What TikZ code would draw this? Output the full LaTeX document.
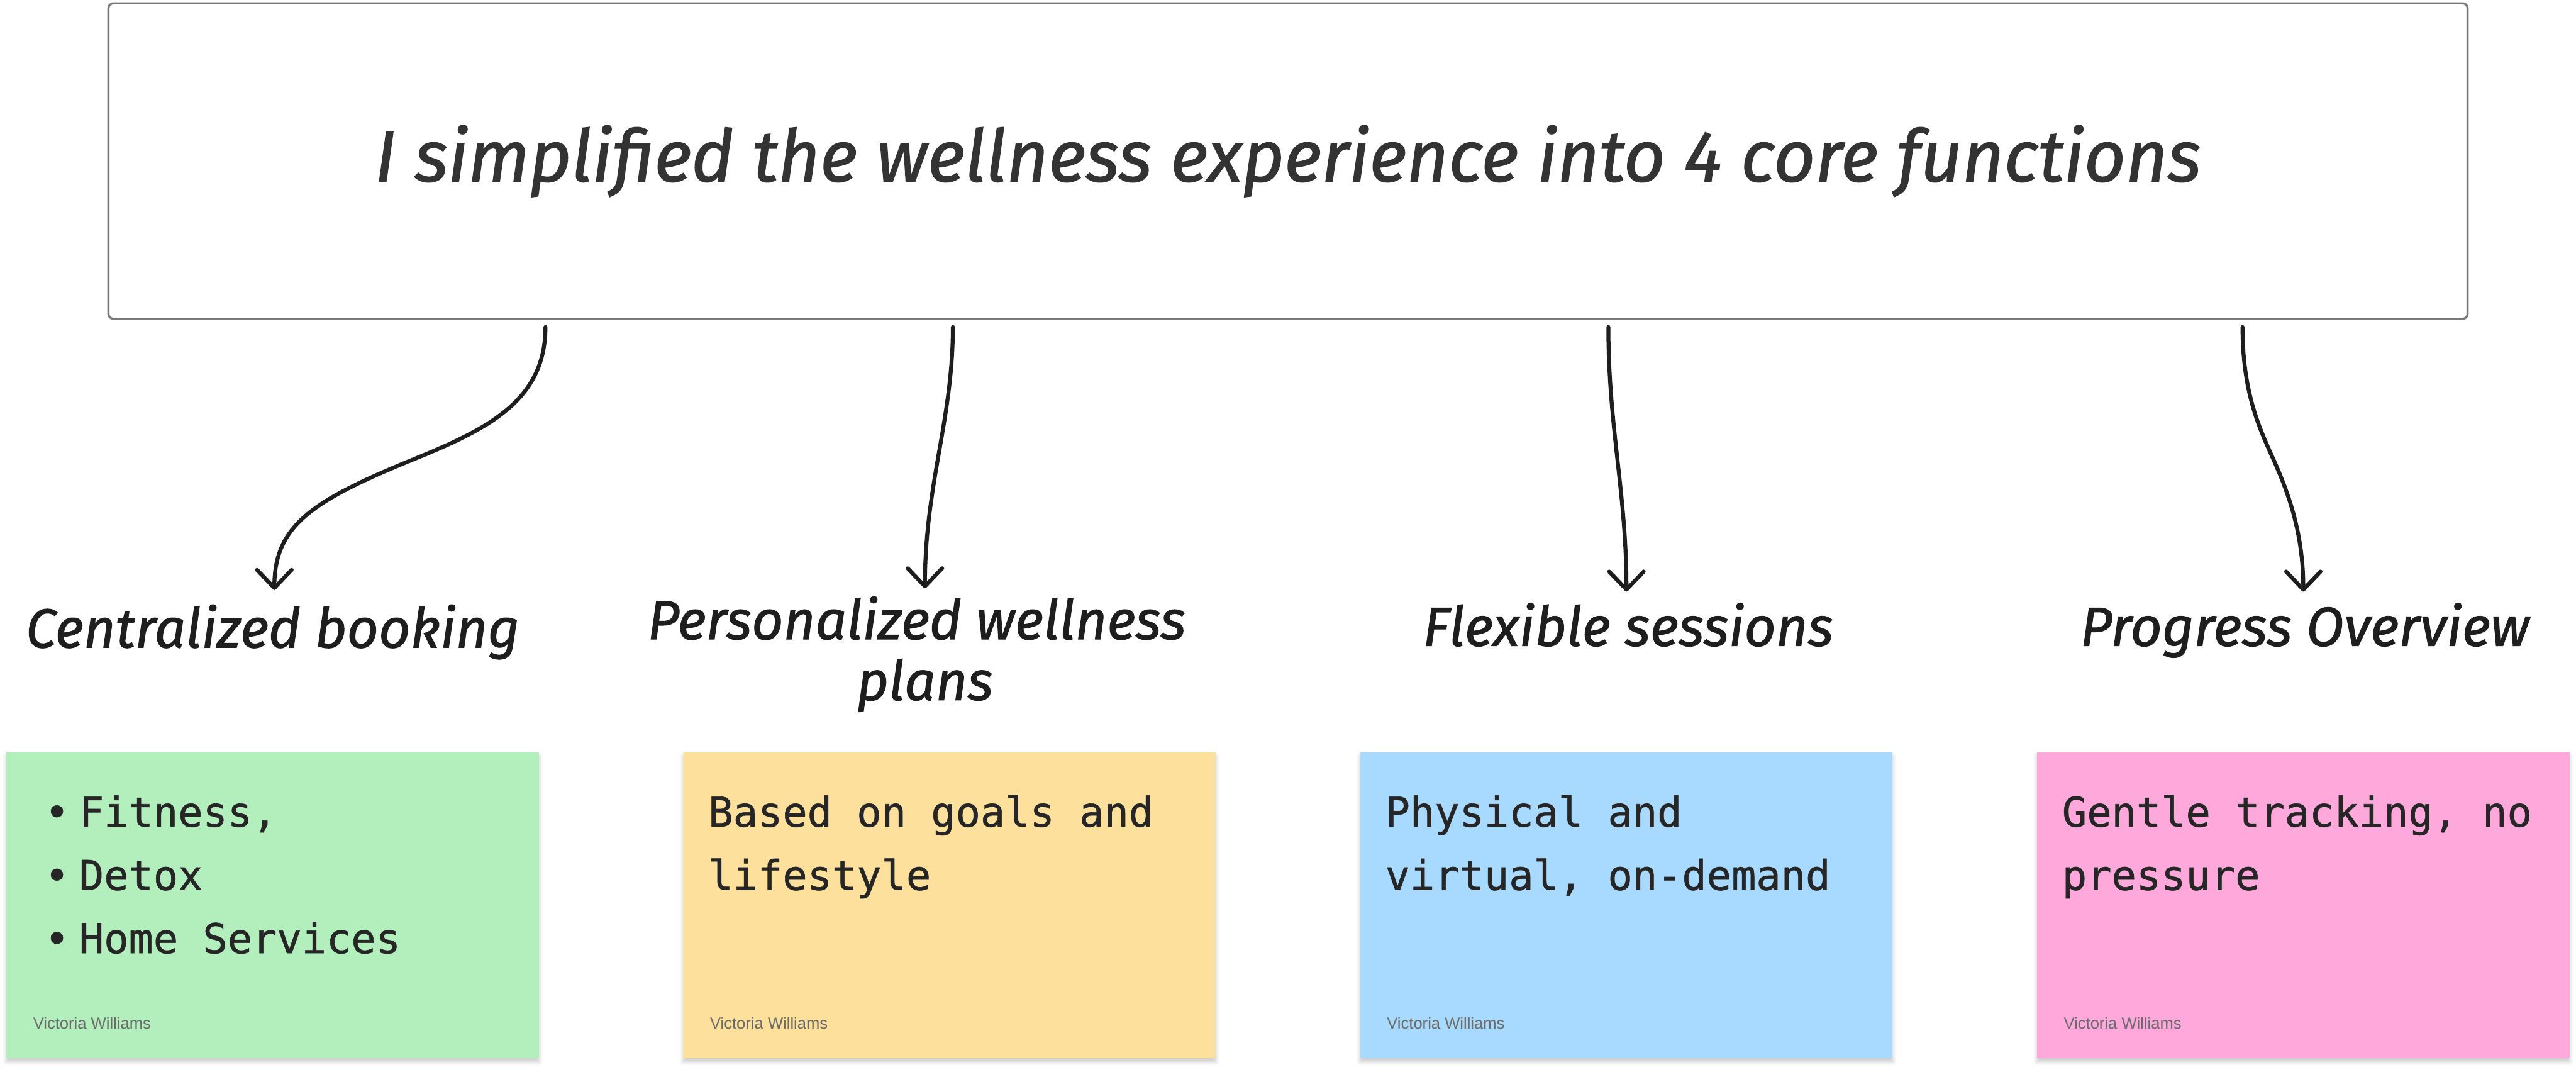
\documentclass[tikz,border=0pt]{standalone}
\usepackage{fontspec}
\usetikzlibrary{arrows.meta,shadows.blur}
\newfontfamily\handf{Fira Sans}[FakeBold=1.2]
\newfontfamily\monof{DejaVu Sans Mono}[FakeBold=0.9]
\newfontfamily\authf{Liberation Sans}
\definecolor{boxgray}{HTML}{7A7A7A}
\definecolor{ink}{HTML}{1E1E1E}
\definecolor{titleink}{HTML}{333333}
\definecolor{bodyink}{HTML}{262626}
\definecolor{authink}{HTML}{6B6B6B}
\definecolor{stgreen}{HTML}{B3EFBD}
\definecolor{styellow}{HTML}{FCE09B}
\definecolor{stblue}{HTML}{A8D9FF}
\definecolor{stpink}{HTML}{FFA8DB}
\begin{document}
\begin{tikzpicture}[x=1pt,y=-1pt,
  titlebox/.style={draw=boxgray, line width=1.3pt, rounded corners=3pt,
    minimum width=1436pt, minimum height=192pt, inner sep=0pt, outer sep=0pt,
    text=titleink, font=\fontsize{44}{52}\selectfont\handf\itshape},
  lbl/.style={anchor=base, inner sep=0pt, text=ink,
    font=\fontsize{33.5}{40}\selectfont\handf\itshape},
  sticky/.style={anchor=north west, minimum width=324pt, minimum height=186pt,
    inner sep=0pt, outer sep=0pt,
    blur shadow={shadow xshift=0pt, shadow yshift=-2pt, shadow blur radius=2.5pt,
      shadow blur steps=6, shadow opacity=22}},
  body/.style={anchor=base west, inner sep=0pt, text=bodyink,
    font=\fontsize{25}{30}\selectfont\monof},
  auth/.style={anchor=base west, inner sep=0pt, text=authink,
    font=\fontsize{9.8}{12}\selectfont\authf},
  arr/.style={draw=ink, line width=2.4pt, line cap=round,
    -{Straight Barb[length=11pt,width=21pt,round]}}
]
\useasboundingbox (0,0) rectangle (1568,652);

% title
\node[titlebox] (title) at (784,98) {I simplified the wellness experience into 4 core functions};

% labels
\node[lbl] (l1) at (166,394) {Centralized booking};
\node[lbl] (l2a) at (558,389) {Personalized wellness};
\node[lbl] (l2b) at (563,426) {plans};
\node[lbl] (l3) at (991,393) {Flexible sessions};
\node[lbl] (l4) at (1403,393) {Progress Overview};

% arrow end points
\coordinate (a1s) at (332,199);
\coordinate (a1m) at (248,281);
\coordinate (a1e) at (167,359);
\coordinate (a2s) at (580,199);
\coordinate (a2e) at (563,358);
\coordinate (a3s) at (979,199);
\coordinate (a3e) at (990,360);
\coordinate (a4s) at (1365,199);
\coordinate (a4m) at (1384,280);
\coordinate (a4e) at (1402,360);

\draw[arr] (a1s) .. controls (332,245) and (295,262) .. (a1m)
  .. controls (190,305) and (167,320) .. (a1e);
\draw[arr] (a2s) .. controls (580,255) and (563,295) .. (a2e);
\draw[arr] (a3s) .. controls (979,260) and (990,300) .. (a3e);
\draw[arr] (a4s) .. controls (1365,240) and (1376,262) .. (a4m)
  .. controls (1393,300) and (1402,325) .. (a4e);

% sticky notes
\node[sticky, fill=stgreen] (s1) at (4,458) {};
\node[sticky, fill=styellow] (s2) at (416,458) {};
\node[sticky, fill=stblue] (s3) at (828,458) {};
\node[sticky, fill=stpink] (s4) at (1240,458) {};

% sticky 1 text
\node[body] (s1a) at (48,503) {\llap{•\hspace*{6pt}}Fitness,};
\node[body] (s1b) at (48,541.5) {\llap{•\hspace*{6pt}}Detox};
\node[body] (s1c) at (48,580) {\llap{•\hspace*{6pt}}Home Services};
% sticky 2 text
\node[body] (s2a) at (431,503) {Based on goals and};
\node[body] (s2b) at (431,541.5) {lifestyle};
% sticky 3 text
\node[body] (s3a) at (843,503) {Physical and};
\node[body] (s3b) at (843,541.5) {virtual, on-demand};
% sticky 4 text
\node[body] (s4a) at (1255,503) {Gentle tracking, no};
\node[body] (s4b) at (1255,541.5) {pressure};

% authors
\node[auth] (au1) at (20,626) {Victoria Williams};
\node[auth] (au2) at (432,626) {Victoria Williams};
\node[auth] (au3) at (844,626) {Victoria Williams};
\node[auth] (au4) at (1256,626) {Victoria Williams};
\end{tikzpicture}
\end{document}
